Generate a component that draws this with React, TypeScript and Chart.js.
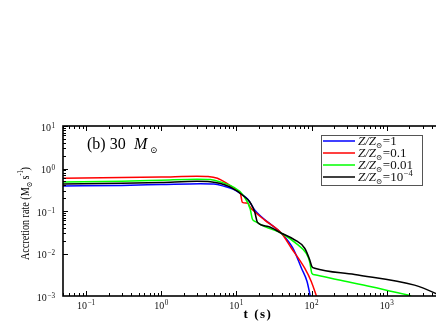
import React, { useEffect, useRef } from "react";
import { Chart, registerables } from "chart.js";

Chart.register(...registerables);

// ---- data (time in s, accretion rate in Msun/s) ----
const tBlue = [0.0495, 0.3, 1, 3.3, 5, 6.6, 9, 11.1, 14.2, 17.5, 21.5, 29.2, 39.7, 56.6, 73.4, 87, 96];
const rBlue = [0.39, 0.4, 0.42, 0.44, 0.43, 0.39, 0.33, 0.265, 0.19, 0.106, 0.073, 0.047, 0.03, 0.0132, 0.0045, 0.0022, 0.001];

const tRed = [0.0495, 0.3, 1, 3, 4.2, 5.6, 7.4, 10, 11.3, 12.0, 14.3, 15.1, 17.5, 23.8, 39.7, 54, 81, 99, 116];
const rRed = [0.59, 0.61, 0.63, 0.66, 0.65, 0.59, 0.45, 0.31, 0.26, 0.16, 0.152, 0.126, 0.096, 0.061, 0.03, 0.0133, 0.0045, 0.0022, 0.001];

const tGreen = [0.0495, 0.3, 1, 3, 4.5, 6, 9, 12.2, 15.3, 16.3, 18, 23.8, 39.7, 66, 85, 94.4, 101, 110, 224, 622, 2110];
const rGreen = [0.48, 0.5, 0.53, 0.56, 0.55, 0.49, 0.37, 0.24, 0.11, 0.065, 0.056, 0.043, 0.03, 0.0159, 0.0101, 0.0064, 0.0034, 0.00315, 0.0024, 0.00166, 0.001];

const tBlack = [0.0495, 0.3, 1, 3, 4.5, 8.2, 13.6, 15.6, 17.5, 19.1, 26.4, 39.7, 59.6, 81, 94.4, 101, 110, 373, 2340, 4450, 5200];
const rBlack = [0.43, 0.45, 0.47, 0.5, 0.49, 0.37, 0.2, 0.15, 0.096, 0.054, 0.043, 0.03, 0.021, 0.0133, 0.0071, 0.0049, 0.0045, 0.0032, 0.0018, 0.00115, 0.001];

const legendValues = ["1", "0.1", "0.01", "10"];
const legendExps = ["", "", "", "\u22124"];
const seriesColors = ["#0000ff", "#ff0000", "#00ff00", "#000000"];

const xTickExps = [-1, 0, 1, 2, 3];
const yTickExps = [-3, -2, -1, 0, 1];

const X_MIN = 0.0495;
const X_MAX = 10000;
const Y_MIN = 0.001;
const Y_MAX = 10;

const FONT = "'Liberation Serif', 'Times New Roman', 'DejaVu Serif', serif";
const SYM_FONT = "'DejaVu Serif', 'DejaVu Sans', serif";

function sup(e: number) {
  return e < 0 ? "\u2212" + Math.abs(e) : String(e);
}

function drawPow(ctx: CanvasRenderingContext2D, base: string, exp: string, x: number, y: number, size: number, raise: number, align: "left" | "right" | "center") {
  ctx.font = `${size}px ${FONT}`;
  const wb = ctx.measureText(base).width;
  ctx.font = `${size * 0.72}px ${FONT}`;
  const we = ctx.measureText(exp).width;
  const total = wb + we + 0.5;
  const x0 = align === "left" ? x : align === "right" ? x - total : x - total / 2;
  ctx.textAlign = "left";
  ctx.textBaseline = "alphabetic";
  ctx.font = `${size}px ${FONT}`;
  ctx.fillText(base, x0, y);
  ctx.font = `${size * 0.72}px ${FONT}`;
  ctx.fillText(exp, x0 + wb + 0.5, y - raise);
}

const decor = {
  id: "decor",
  afterDatasetsDraw(chart: any) {
    const { ctx, chartArea: a, scales } = chart;
    const xs = scales.x;
    const ys = scales.y;
    ctx.save();
    ctx.strokeStyle = "#000";
    ctx.fillStyle = "#000";

    // ticks (inward, all sides)
    ctx.lineWidth = 1;
    for (let e = -2; e <= 4; e++) {
      for (let m = 1; m <= 9; m++) {
        const v = m * Math.pow(10, e);
        const len = m === 1 ? 5 : 3;
        if (v >= X_MIN && v <= X_MAX) {
          const px = Math.round(xs.getPixelForValue(v)) + 0.5;
          ctx.beginPath();
          ctx.moveTo(px, a.bottom);
          ctx.lineTo(px, a.bottom - len);
          ctx.moveTo(px, a.top);
          ctx.lineTo(px, a.top + len);
          ctx.stroke();
        }
        if (v >= Y_MIN && v <= Y_MAX) {
          const py = Math.round(ys.getPixelForValue(v)) + 0.5;
          ctx.beginPath();
          ctx.moveTo(a.left, py);
          ctx.lineTo(a.left + len, py);
          ctx.moveTo(a.right, py);
          ctx.lineTo(a.right - len, py);
          ctx.stroke();
        }
      }
    }

    // frame
    ctx.lineWidth = 1.6;
    ctx.strokeRect(a.left, a.top, a.right - a.left, a.bottom - a.top);

    // tick labels
    ctx.fillStyle = "#111";
    xTickExps.forEach((e) => {
      const px = xs.getPixelForValue(Math.pow(10, e));
      drawPow(ctx, "10", sup(e), px, a.bottom + 12.5, 10, 3.5, "center");
    });
    yTickExps.forEach((e) => {
      const py = ys.getPixelForValue(Math.pow(10, e));
      drawPow(ctx, "10", sup(e), a.left - 8, py + 4.5, 10, 3, "right");
    });

    // x title
    ctx.fillStyle = "#000";
    ctx.font = `bold 13px ${FONT}`;
    (ctx as any).letterSpacing = "1.5px";
    ctx.textAlign = "center";
    ctx.textBaseline = "alphabetic";
    ctx.fillText("t (s)", 258, 318);
    (ctx as any).letterSpacing = "0px";

    // y title (rotated)
    ctx.save();
    ctx.translate(29, 213.5);
    ctx.rotate(-Math.PI / 2);
    ctx.scale(0.78, 1);
    const parts: [string, string, number][] = [
      ["Accretion rate (M", `13px ${FONT}`, 0],
      ["\u2299", `8px ${SYM_FONT}`, 3],
      [" s", `13px ${FONT}`, 0],
      ["-1", `8px ${FONT}`, -6],
      [")", `13px ${FONT}`, 0],
    ];
    let tw = 0;
    parts.forEach(([s, f]) => { ctx.font = f; tw += ctx.measureText(s).width; });
    let cx = -tw / 2;
    ctx.textAlign = "left";
    parts.forEach(([s, f, dy]) => {
      ctx.font = f;
      ctx.fillText(s, cx, dy);
      cx += ctx.measureText(s).width;
    });
    ctx.restore();

    // panel annotation
    ctx.textAlign = "left";
    ctx.font = `16px ${FONT}`;
    ctx.fillText("(b) 30", 87, 148.5);
    ctx.font = `italic 16px ${FONT}`;
    ctx.fillText("M", 134, 148.5);
    ctx.font = `9px ${SYM_FONT}`;
    ctx.fillText("\u2299", 150, 152.5);

    // legend
    const lx = 321.5, ly = 135.5, lw = 101, lh = 50;
    ctx.fillStyle = "#fff";
    ctx.fillRect(lx, ly, lw, lh);
    ctx.strokeStyle = "#555";
    ctx.lineWidth = 1;
    ctx.strokeRect(lx, ly, lw, lh);
    const rows = [141, 153, 165, 177];
    chart.data.datasets.forEach((ds: any, i: number) => {
      const yy = rows[i];
      ctx.strokeStyle = ds.borderColor;
      ctx.lineWidth = 1.5;
      ctx.beginPath();
      ctx.moveTo(323, yy);
      ctx.lineTo(355, yy);
      ctx.stroke();
      ctx.fillStyle = "#111";
      let tx = 358;
      const by = yy + 4;
      ctx.font = `italic 13px ${FONT}`;
      ctx.fillText("Z/Z", tx, by);
      tx += ctx.measureText("Z/Z").width;
      ctx.font = `7.5px ${SYM_FONT}`;
      ctx.fillText("\u2299", tx, by + 2.5);
      tx += ctx.measureText("\u2299").width + 0.5;
      ctx.font = `13px ${FONT}`;
      const val = "=" + legendValues[i];
      ctx.fillText(val, tx, by);
      tx += ctx.measureText(val).width;
      if (legendExps[i]) {
        ctx.font = `8.5px ${FONT}`;
        ctx.fillText(legendExps[i], tx + 0.5, by - 5);
      }
    });

    ctx.restore();
  },
};

function toPts(t: number[], r: number[]) {
  return t.map((v, i) => ({ x: v, y: r[i] }));
}

export default function App() {
  const ref = useRef<HTMLCanvasElement>(null);
  useEffect(() => {
    const canvas = ref.current!;
    const mk = (label: string, t: number[], r: number[], color: string, order: number) => ({
      label,
      data: toPts(t, r),
      borderColor: color,
      backgroundColor: color,
      borderWidth: 1.5,
      pointRadius: 0,
      fill: false,
      cubicInterpolationMode: "monotone" as const,
      order,
    });
    const chart = new Chart(canvas, {
      type: "line",
      data: {
        datasets: [
          mk("Z/Zsun=1", tBlue, rBlue, seriesColors[0], 3),
          mk("Z/Zsun=0.1", tRed, rRed, seriesColors[1], 2),
          mk("Z/Zsun=0.01", tGreen, rGreen, seriesColors[2], 1),
          mk("Z/Zsun=1e-4", tBlack, rBlack, seriesColors[3], 0),
        ],
      },
      options: {
        animation: false,
        responsive: false,
        devicePixelRatio: 1,
        layout: { padding: { left: 63, top: 126, right: 8, bottom: 31 } },
        plugins: { legend: { display: false }, tooltip: { enabled: false }, title: { display: false } },
        scales: {
          x: { type: "logarithmic", min: X_MIN, max: X_MAX, display: false },
          y: { type: "logarithmic", min: Y_MIN, max: Y_MAX, display: false },
        },
      },
      plugins: [decor],
    });
    return () => chart.destroy();
  }, []);
  return (
    <div style={{ position: "fixed", left: 0, top: 0, width: 436, height: 327, overflow: "hidden", background: "#fff" }}>
      <canvas ref={ref} width={470} height={327} style={{ display: "block", width: 470, height: 327 }} />
    </div>
  );
}
